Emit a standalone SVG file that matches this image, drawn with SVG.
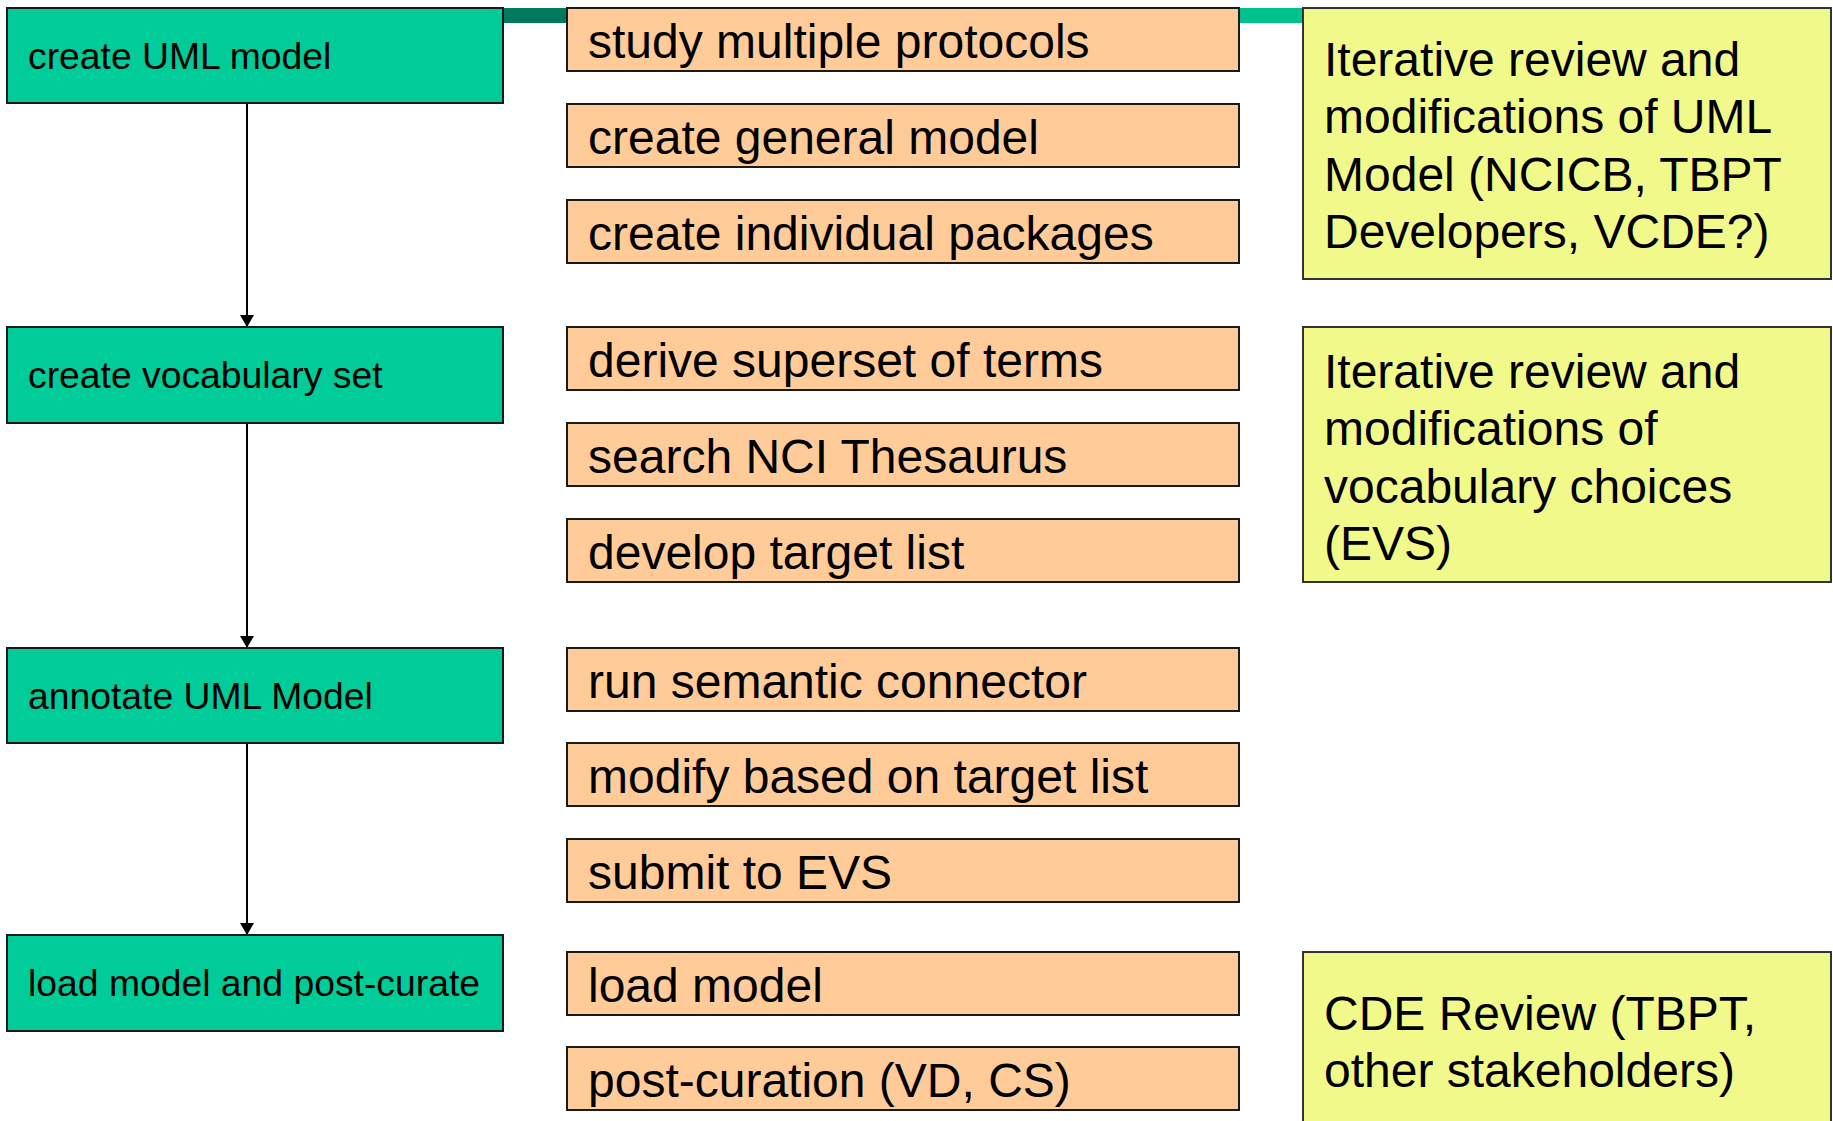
<svg xmlns="http://www.w3.org/2000/svg" width="1833" height="1121" viewBox="0 0 1833 1121">
<defs>
<style>
.g{fill:#00CC99;stroke:#1a1a1a;stroke-width:2}
.o{fill:#FFCC99;stroke:#1a1a1a;stroke-width:2}
.y{fill:#F2F98B;stroke:#333;stroke-width:2}
.tg{font-family:"Liberation Sans",Arial,sans-serif;font-size:37.3px;fill:#000}
.to{font-family:"Liberation Sans",Arial,sans-serif;font-size:48px;fill:#000}
.ty{font-family:"Liberation Sans",Arial,sans-serif;font-size:48px;fill:#000}
.c{stroke:#000;stroke-width:2;fill:none}
</style>
<marker id="ah" viewBox="0 0 12 14" refX="12" refY="7" markerWidth="12" markerHeight="14" markerUnits="userSpaceOnUse" orient="auto">
<path d="M0,0 L12,7 L0,14 Z" fill="#000"/>
</marker>
</defs>
<rect width="1833" height="1121" fill="#fff"/>
<g id="bars">
<rect x="503" y="8" width="64" height="15" fill="#007A5E"/>
<rect x="1239" y="8" width="64" height="15" fill="#00C08E"/>
</g>
<g id="connectors">
<line class="c" x1="247" y1="103" x2="247" y2="327" marker-end="url(#ah)"/>
<line class="c" x1="247" y1="423" x2="247" y2="648" marker-end="url(#ah)"/>
<line class="c" x1="247" y1="743" x2="247" y2="935" marker-end="url(#ah)"/>
</g>
<g id="n-create-uml"><rect class="g" x="7" y="8" width="496" height="95"/><text class="tg" x="28" y="69">create UML model</text></g>
<g id="n-create-vocab"><rect class="g" x="7" y="327" width="496" height="96"/><text class="tg" x="28" y="388">create vocabulary set</text></g>
<g id="n-annotate"><rect class="g" x="7" y="648" width="496" height="95"/><text class="tg" x="28" y="709">annotate UML Model</text></g>
<g id="n-load"><rect class="g" x="7" y="935" width="496" height="96"/><text class="tg" x="28" y="996">load model and post-curate</text></g>

<g id="o1"><rect class="o" x="567" y="8" width="672" height="63"/><text class="to" x="588" y="58">study multiple protocols</text></g>
<g id="o2"><rect class="o" x="567" y="104" width="672" height="63"/><text class="to" x="588" y="154">create general model</text></g>
<g id="o3"><rect class="o" x="567" y="200" width="672" height="63"/><text class="to" x="588" y="250">create individual packages</text></g>
<g id="o4"><rect class="o" x="567" y="327" width="672" height="63"/><text class="to" x="588" y="377">derive superset of terms</text></g>
<g id="o5"><rect class="o" x="567" y="423" width="672" height="63"/><text class="to" x="588" y="473">search NCI Thesaurus</text></g>
<g id="o6"><rect class="o" x="567" y="519" width="672" height="63"/><text class="to" x="588" y="569">develop target list</text></g>
<g id="o7"><rect class="o" x="567" y="648" width="672" height="63"/><text class="to" x="588" y="698">run semantic connector</text></g>
<g id="o8"><rect class="o" x="567" y="743" width="672" height="63"/><text class="to" x="588" y="793">modify based on target list</text></g>
<g id="o9"><rect class="o" x="567" y="839" width="672" height="63"/><text class="to" x="588" y="889">submit to EVS</text></g>
<g id="o10"><rect class="o" x="567" y="952" width="672" height="63"/><text class="to" x="588" y="1002">load model</text></g>
<g id="o11"><rect class="o" x="567" y="1047" width="672" height="63"/><text class="to" x="588" y="1097">post-curation (VD, CS)</text></g>

<g id="y1"><rect class="y" x="1303" y="8" width="528" height="271"/>
<text class="ty" x="1324" y="76">Iterative review and</text>
<text class="ty" x="1324" y="133">modifications of UML</text>
<text class="ty" x="1324" y="191">Model (NCICB, TBPT</text>
<text class="ty" x="1324" y="248">Developers, VCDE?)</text></g>
<g id="y2"><rect class="y" x="1303" y="327" width="528" height="255"/>
<text class="ty" x="1324" y="388">Iterative review and</text>
<text class="ty" x="1324" y="445">modifications of</text>
<text class="ty" x="1324" y="503">vocabulary choices</text>
<text class="ty" x="1324" y="560">(EVS)</text></g>
<g id="y3"><rect class="y" x="1303" y="952" width="528" height="190"/>
<text class="ty" x="1324" y="1030">CDE Review (TBPT,</text>
<text class="ty" x="1324" y="1087">other stakeholders)</text></g>
</svg>
